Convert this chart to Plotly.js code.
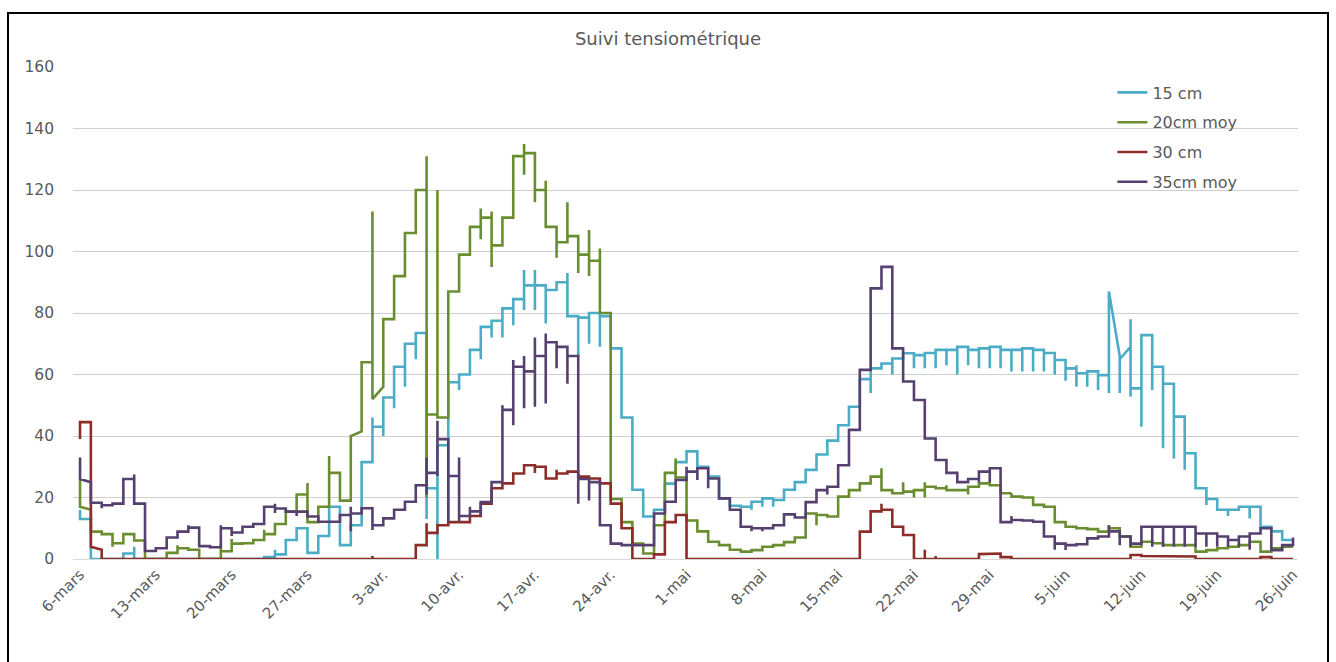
<!DOCTYPE html>
<html>
<head>
<meta charset="utf-8">
<script src="https://cdn.plot.ly/plotly-3.0.1.min.js"></script>
<style>
  html, body { margin: 0; padding: 0; background: #ffffff; }
  #chart { position: absolute; left: 0; top: 0; width: 1336px; height: 662px; }
  #frame { position: absolute; left: 7px; top: 12px; width: 1318px; height: 700px;
           border: 2.5px solid #000; pointer-events: none; }
</style>
</head>
<body>
<div id="chart"></div>
<div id="frame"></div>
<script>
// Day index 0 = 6 mars ... 112 = 26 juin (one value per day)
const tickDays = [0, 7, 14, 21, 28, 35, 42, 49, 56, 63, 70, 77, 84, 91, 98, 105, 112];
const tickLabels = ['6-mars', '13-mars', '20-mars', '27-mars', '3-avr.', '10-avr.', '17-avr.', '24-avr.',
                    '1-mai', '8-mai', '15-mai', '22-mai', '29-mai', '5-juin', '12-juin', '19-juin', '26-juin'];

const seriesNames = ['15 cm', '20cm moy', '30 cm', '35cm moy'];

// daily readings (level at the start of each day)
const cm15 = [
  13, 0, 0, 0, 1.8, 0, 0,
  0, 0, 0, 0, 0, 0, 0,
  0, 0, 0, 0.6, 1.5, 6.2, 10,
  2, 7.5, 17, 4.5, 11, 31.5, 43,
  52.5, 62.5, 70, 73.5, 23, 37, 57.5,
  60, 68, 75.5, 77.5, 81.5, 84.5, 89,
  89, 87.5, 90, 79, 78.5, 80, 79,
  68.5, 46, 22.5, 13.8, 16, 24.5, 31.5,
  35, 30, 26.8, 19.7, 17.3, 17, 18.6,
  19.7, 19.2, 22.5, 25, 29, 34, 38.5,
  43.5, 49.5, 58.5, 62, 63.6, 65.2, 66.9,
  66.3, 67, 68, 68, 69, 68, 68.5,
  69, 68, 68, 68.5, 68, 67, 64.7,
  62, 60.4, 61, 59.8, 87, 65, 55.5,
  72.8, 62.5, 57, 46.3, 34.4, 23, 19.5,
  16, 16, 17, 17, 10.5, 9, 6.2,
  6.2
];
const cm20 = [
  17, 8.9, 8.1, 5.1, 8.1, 6, 0,
  0, 2, 3.5, 3, 0, 0, 2.5,
  5, 5.1, 6.2, 8.1, 11.4, 15.4, 21,
  12, 17, 28, 19, 40, 64, 52,
  78, 92, 106, 120, 47, 46, 87,
  99, 108, 111, 102, 111, 131, 132,
  120, 108, 103, 105, 99, 97, 80,
  19.5, 12, 5, 1.8, 11, 28, 26.5,
  12.5, 9, 5.6, 4.5, 3, 2.4, 2.9,
  4, 4.5, 5.5, 7, 14.8, 14.3, 13.8,
  20.3, 22.4, 24.6, 26.8, 22.4, 21.4, 21.9,
  22.4, 23.5, 23, 22.4, 22.4, 23.5, 24.6,
  24, 21.4, 20.3, 20, 17.6, 17, 12,
  10.5, 10, 9.7, 8.9, 10, 7.3, 4,
  5.6, 5.1, 4.5, 4.5, 4.5, 2.4, 2.9,
  3.5, 4, 4.5, 5.6, 2.4, 3.5, 4,
  4
];
const cm30 = [
  44.5, 4, 0, 0, 0, 0, 0,
  0, 0, 0, 0, 0, 0, 0,
  0, 0, 0, 0, 0, 0, 0,
  0, 0, 0, 0, 0, 0, 0,
  0, 0, 0, 4.5, 8.5, 11, 12,
  12, 14, 18, 23, 24.6, 27.8, 30.5,
  30, 26.2, 27.8, 28.4, 26.8, 26.2, 24.6,
  18, 10, 0, 0, 1.5, 12, 14.3,
  0, 0, 0, 0, 0, 0, 0,
  0, 0, 0, 0, 0, 0, 0,
  0, 0, 8.9, 15.5, 16, 10.5, 7.8,
  0, 0, 0, 0, 0, 0, 1.6,
  1.8, 0.6, 0, 0, 0, 0, 0,
  0, 0, 0, 0, 0, 0, 1.3,
  1, 0.8, 0.8, 0.8, 0.8, 0, 0,
  0, 0, 0, 0, 0.6, 0, 0,
  0
];
const cm35 = [
  26, 18.3, 17.5, 18, 26, 18, 2.6,
  3.5, 7, 8.9, 10.2, 4.2, 3.8, 10,
  8.6, 10.5, 11.4, 17, 16.4, 15.4, 15.4,
  13.8, 12.1, 12.1, 14.3, 14.8, 16.5, 11,
  13.2, 16, 18.6, 24, 28, 39, 27,
  14, 15.5, 18.5, 25, 48.5, 62.5, 61,
  66, 70.5, 69, 66, 26, 25, 11,
  5, 4.5, 4.5, 4.5, 14.8, 18.6, 25.7,
  28.4, 29.5, 26.2, 19.7, 16, 10.5, 10,
  10, 11, 14.5, 13.5, 18.5, 22.4, 23.5,
  30.5, 42, 61.5, 88, 95, 68.5, 57.7,
  51.7, 39.2, 32.2, 28, 25, 26, 28.4,
  29.5, 12, 12.7, 12.5, 12.1, 7.3, 5,
  4.5, 4.8, 6.7, 7.3, 9, 7.3, 5,
  10.5, 10.5, 10.5, 10.5, 10.5, 8.3, 8.3,
  7.3, 6.2, 7.3, 8.3, 10, 2.9, 4.5,
  5.6
];

// short intra-day excursions: [day, reading, reading, ...] visited before that day's level
const cm15Spikes = [[0,16],[5,4],[18,3],[27,46],[28,40],[29,49],[30,56],[31,65],[32,13],[33,0],[34,12],
  [35,55],[36,65],[37,65],[38,72],[39,72],[40,76],[41,94,81],[42,94,81],[43,76.6],[45,93],[46,66],[47,70],
  [48,69],[62,16],[63,17],[64,17],[70,38],[73,54],[75,60],[77,62],[78,62],[79,62],[80,63],[81,60],[82,63],
  [83,62],[84,62],[85,62],[86,61],[87,61],[88,61],[89,61],[90,60],[91,58],[92,63,56],[93,56],[94,55],
  [95,54],[96,54],[97,78,52.8],[98,43],[99,55],[100,36],[101,32.7],[102,29],[104,17.6],[106,14],[108,13.2]];
const cm20Spikes = [[0,26],[3,4],[9,4.5],[13,5],[14,6.5],[17,9.5],[21,24.7],[23,33.5],[27,113],[32,131,20],
  [33,120],[37,114,104],[38,113,95],[41,135,125],[42,116],[43,123],[44,98],[45,116],[46,93],[47,107,92],
  [48,101],[55,32.7],[61,2],[68,11],[74,29.5],[76,25],[77,20],[78,25,20],[80,24],[82,21],[86,21.5],[95,11]];
const cm30Spikes = [[0,39],[1,45],[27,1],[32,11.6],[42,28],[44,29],[74,18],[78,3],[79,1]];
const cm35Spikes = [[0,33],[2,16.5],[5,27.5],[10,11],[13,11],[14,10,7.5],[18,18,15],[20,14],[25,17,9],
  [27,9.4],[32,33,21],[33,45,27],[34,12],[35,12,33],[36,17],[37,14],[39,50],[40,43.5,64.7],[41,66,49],
  [42,72,49.5],[43,73.3,50.6],[44,62],[45,57],[46,18],[47,19],[56,30],[57,25.7],[58,23],[62,9],[63,9],
  [69,21],[83,25],[84,25],[86,14],[90,3],[91,2.9],[95,11],[96,4.5],[97,4],[99,4],[100,4],[101,4],[102,4],
  [103,4],[104,4],[105,4],[106,4],[107,4],[108,3],[112,7]];

// days whose level drifts during the day: [day, level reached at the end of that day]
const cm15Ends = [[95, 66], [96, 69]];
const cm20Ends = [[0, 16], [25, 41.5], [27, 56]];
const cm30Ends = [[1, 3]];
const cm35Ends = [[0, 25]];

const colors = ['#4BACC6', '#6A8D2F', '#8C2D29', '#55406F'];

function buildPoints(values, spikes, ends) {
  const extra = {}, endAt = {};
  spikes.forEach(s => { extra[s[0]] = s.slice(1); });
  ends.forEach(e => { endAt[e[0]] = e[1]; });
  const last = values.length - 1;
  const x = [], y = [];
  values.forEach((v, i) => {
    if (extra[i]) extra[i].forEach(s => { x.push(i); y.push(s); });
    x.push(i); y.push(v);
    if (i < last) { x.push(i + 1); y.push(endAt[i] !== undefined ? endAt[i] : v); }
  });
  return {x, y};
}

const allValues = [cm15, cm20, cm30, cm35];
const allSpikes = [cm15Spikes, cm20Spikes, cm30Spikes, cm35Spikes];
const allEnds = [cm15Ends, cm20Ends, cm30Ends, cm35Ends];

const traces = allValues.map((vals, k) => {
  const p = buildPoints(vals, allSpikes[k], allEnds[k]);
  return {
    type: 'scatter', mode: 'lines', name: seriesNames[k],
    x: p.x, y: p.y,
    line: {color: colors[k], width: 2.6, shape: 'linear'},
    legendgroup: 'g' + k,
    hoverinfo: 'x+y'
  };
});

const layout = {
  width: 1336, height: 662,
  margin: {l: 73, r: 38, t: 67, b: 103, pad: 0},
  paper_bgcolor: '#ffffff', plot_bgcolor: '#ffffff',
  font: {family: 'DejaVu Sans, sans-serif', color: '#595959', size: 15},
  title: {text: 'Suivi tensiométrique', x: 0.5, xanchor: 'center', yref: 'container', y: 0.941, yanchor: 'middle',
          font: {size: 18, color: '#595959', family: 'DejaVu Sans, sans-serif'}},
  xaxis: {
    range: [-0.65, 112.46], tickmode: 'array', tickvals: tickDays, ticktext: tickLabels,
    tickangle: -45, showgrid: false, zeroline: false, showline: true, linecolor: '#D9D9D9', linewidth: 1,
    ticks: '', tickfont: {size: 15, color: '#595959'}, fixedrange: true
  },
  yaxis: {
    range: [0, 160], tickmode: 'linear', tick0: 0, dtick: 20, showgrid: true, gridcolor: '#CFCFCF', gridwidth: 1,
    zeroline: false, showline: false, ticks: '', ticklabelstandoff: 18,
    tickfont: {size: 15.5, color: '#595959'}, fixedrange: true
  },
  showlegend: true,
  legend: {
    x: 0.8485, xanchor: 'left', y: 0.9827, yanchor: 'top',
    font: {size: 16, color: '#595959'}, tracegroupgap: 6, bgcolor: 'rgba(0,0,0,0)', borderwidth: 0
  }
};

Plotly.newPlot('chart', traces, layout, {displayModeBar: false, staticPlot: true});
</script>
</body>
</html>
